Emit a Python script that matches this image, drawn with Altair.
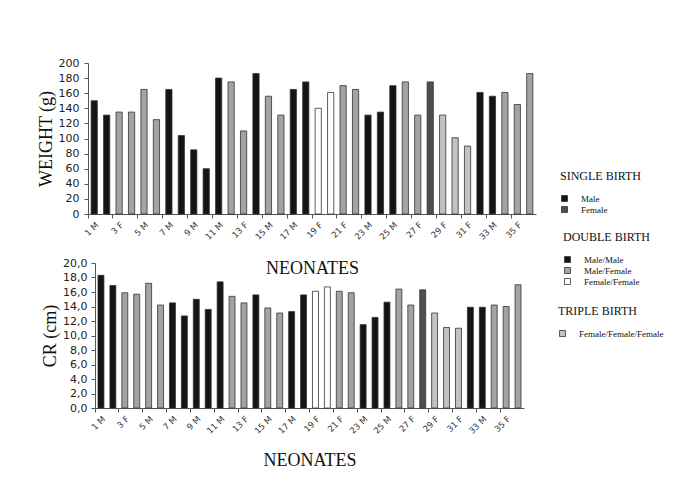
import altair as alt
import pandas as pd

ids = list(range(1, 37))
sexes = ["M", "M", "F", "M", "M", "F", "M", "M", "M", "M", "M", "M", "F", "M", "M", "F", "M", "M",
         "F", "F", "F", "M", "M", "M", "M", "M", "F", "F", "F", "F", "F", "M", "M", "M", "F", "M"]
categories = ["Male/Male", "Male/Male", "Male/Female", "Male/Female", "Male/Female", "Male/Female",
              "Male/Male", "Male/Male", "Male/Male", "Male/Male", "Male", "Male/Female",
              "Male/Female", "Male", "Male/Female", "Male/Female", "Male/Male", "Male/Male",
              "Female/Female", "Female/Female", "Male/Female", "Male/Female", "Male/Male", "Male/Male",
              "Male", "Male/Female", "Male/Female", "Female", "Female/Female/Female",
              "Female/Female/Female", "Female/Female/Female", "Male/Male", "Male/Male",
              "Male/Female", "Male/Female", "Male/Female"]
weight = [150, 131, 135, 135, 165, 125, 165, 104, 85, 60, 180, 175, 110, 186, 156, 131, 165, 175,
          140, 161, 170, 165, 131, 135, 170, 175, 131, 175, 131, 101, 90, 161, 156, 161, 145, 186]
cr = [18.3, 16.9, 15.9, 15.7, 17.2, 14.2, 14.5, 12.7, 15.0, 13.6, 17.4, 15.4, 14.5, 15.6, 13.8, 13.1,
      13.3, 15.6, 16.1, 16.7, 16.1, 15.9, 11.5, 12.5, 14.6, 16.4, 14.2, 16.3, 13.1, 11.1, 11.0, 13.9,
      13.9, 14.2, 14.0, 17.0]

labels = [f"{i} {s}" for i, s in zip(ids, sexes)]
shown_labels = labels[::2]

group_of = {"Male": "SINGLE BIRTH", "Female": "SINGLE BIRTH",
            "Male/Male": "DOUBLE BIRTH", "Male/Female": "DOUBLE BIRTH", "Female/Female": "DOUBLE BIRTH",
            "Female/Female/Female": "TRIPLE BIRTH"}

groups = [
    ("SINGLE BIRTH", ["Male", "Female"], ["#141414", "#4f4f4f"], 472, 108),
    ("DOUBLE BIRTH", ["Male/Male", "Male/Female", "Female/Female"], ["#141414", "#a3a3a3", "#ffffff"], 475, 169),
    ("TRIPLE BIRTH", ["Female/Female/Female"], ["#c2c2c2"], 470, 243),
]

df = pd.DataFrame({"label": labels, "category": categories, "weight": weight, "cr": cr})
df["group"] = df["category"].map(group_of)

SERIF = "Liberation Serif"
SANS = "DejaVu Sans"


def x_enc(title_pad, scale):
    return alt.X("label:N", sort=labels, scale=scale,
                 axis=alt.Axis(values=shown_labels, labelAngle=-45, bandPosition=0, tickSize=4,
                               labelFont=SANS, labelFontSize=8.5, labelColor="#333",
                               domainColor="#555", tickColor="#555",
                               title="NEONATES", titleFont=SERIF, titleFontSize=18,
                               titleFontWeight="normal", titleColor="#111", titlePadding=title_pad))


def panel(field, y_axis, y_domain, x_scale, title_pad, with_legend):
    layers = []
    for gname, dom, rng, lx, ly in groups:
        if with_legend:
            leg = alt.Legend(title=gname, orient="none", legendX=lx, legendY=ly)
        else:
            leg = None
        layers.append(
            alt.Chart(df).transform_filter(alt.datum.group == gname)
            .mark_bar(stroke="#333", strokeWidth=0.8, width=alt.RelativeBandSize(0.5))
            .encode(
                x=x_enc(title_pad, x_scale),
                y=alt.Y(f"{field}:Q", scale=alt.Scale(domain=y_domain, nice=False), axis=y_axis),
                color=alt.Color("category:N", scale=alt.Scale(domain=dom, range=rng), legend=leg),
            )
        )
    return alt.layer(*layers).resolve_scale(color="independent")


top_y_axis = alt.Axis(values=list(range(0, 201, 20)), grid=False, tickSize=4, labelPadding=5,
                      labelFont=SANS, labelFontSize=11, labelColor="#222",
                      domainColor="#555", tickColor="#555",
                      title="WEIGHT (g)", titleFont=SERIF, titleFontSize=18, titleFontWeight="normal",
                      titleColor="#111", titlePadding=3)
bot_y_axis = alt.Axis(values=list(range(0, 21, 2)), grid=False, tickSize=4, labelPadding=4,
                      labelExpr="replace(format(datum.value, '.1f'), '.', ',')",
                      labelFont=SANS, labelFontSize=11, labelColor="#222",
                      domainColor="#555", tickColor="#555", offset=-7,
                      title="CR (cm)", titleFont=SERIF, titleFontSize=18, titleFontWeight="normal",
                      titleColor="#111", titlePadding=3)

top = panel("weight", top_y_axis, [0, 200],
            alt.Scale(domain=labels, paddingInner=0, paddingOuter=0), 19, True
            ).properties(width=448, height=151)
bottom = panel("cr", bot_y_axis, [0, 20],
               alt.Scale(domain=labels, paddingInner=0, paddingOuter=0, range=[7, 436]), 17, False
               ).properties(width=436, height=145)

chart = alt.vconcat(top, bottom, spacing=49, bounds="flush").properties(
    padding={"left": 29, "top": 49, "right": 5, "bottom": 5}
).configure_view(stroke=None).configure_legend(
    titleFont=SERIF, titleFontSize=12, titleFontWeight="normal", titleColor="#111", titlePadding=11,
    labelFont=SERIF, labelFontSize=9, labelColor="#111", labelOffset=12,
    symbolType="square", symbolSize=36, symbolStrokeColor="#333", symbolStrokeWidth=0.8,
    rowPadding=0,
)

chart.save("out.html", embed_options={"renderer": "svg", "actions": False})
